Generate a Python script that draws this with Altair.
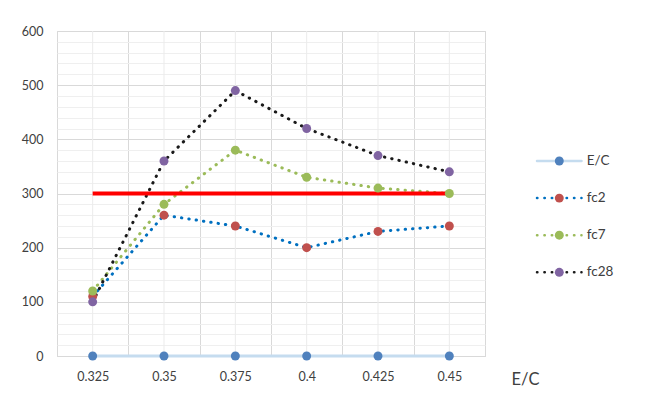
import altair as alt
import pandas as pd

categories = ["0.325", "0.35", "0.375", "0.4", "0.425", "0.45"]
ec = [0, 0, 0, 0, 0, 0]
fc2 = [110, 260, 240, 200, 230, 240]
fc7 = [120, 280, 380, 330, 310, 300]
fc28 = [100, 360, 490, 420, 370, 340]
target = [300, 300, 300, 300, 300, 300]
series_names = ["E/C", "fc2", "fc7", "fc28"]
line_colors = ["#C5DCEF", "#0070C0", "#9BBB59", "#1A1A1A"]
marker_colors = ["#4F81BD", "#C0504D", "#9BBB59", "#8064A2"]
dashes = [[1, 0], [0.4, 7], [0.4, 7], [0.4, 7]]

rows = []
for s, vals in zip(series_names, [ec, fc2, fc7, fc28]):
    for i, (c, v) in enumerate(zip(categories, vals)):
        rows.append({"cat": c, "series": s, "value": v, "idx": i})
df = pd.DataFrame(rows)
df_target = pd.DataFrame({"cat": categories, "value": target, "idx": list(range(len(categories)))})
df_cats = pd.DataFrame({"cat": categories})
df_leg = pd.DataFrame({"series": series_names})

FONT = "Lato"
TXT = "#404040"

x_enc = alt.X(
    "cat:N",
    sort=categories,
    scale=alt.Scale(type="band", domain=categories, paddingInner=0, paddingOuter=0),
    axis=alt.Axis(
        title="E/C",
        titleX=468,
        titleY=23,
        titleAlign="center",
        titleBaseline="middle",
        titleFontSize=16.5,
        titleFontWeight="normal",
        titleFont=FONT,
        titleColor=TXT,
        labelFont=FONT,
        labelFontSize=12.5,
        labelColor=TXT,
        labelPadding=14,
        labelAngle=0,
        ticks=False,
        tickBand="extent",
        grid=True,
        gridColor="#D9D9D9",
        domainColor="#D9D9D9",
    ),
)

y_enc = alt.Y(
    "value:Q",
    scale=alt.Scale(domain=[0, 600], nice=False),
    axis=alt.Axis(
        title=None,
        values=list(range(0, 601, 20)),
        labelExpr="datum.value % 100 === 0 ? datum.label : ''",
        gridColor={"condition": {"test": "datum.value % 100 === 0", "value": "#D9D9D9"}, "value": "#EFEFEF"},
        ticks=False,
        domain=False,
        labelFont=FONT,
        labelFontSize=12.5,
        labelColor=TXT,
        labelPadding=14,
    ),
)

stroke_scale = alt.Scale(domain=series_names, range=line_colors)
fill_scale = alt.Scale(domain=series_names, range=marker_colors)
dash_scale = alt.Scale(domain=series_names, range=dashes)

minor_v = alt.Chart(df_cats).mark_rule(color="#EBEBEB", strokeWidth=1).encode(x=x_enc)

lines = alt.Chart(df).mark_line(strokeWidth=3, strokeCap="round").encode(
    x=x_enc,
    y=y_enc,
    detail="series:N",
    order="idx:Q",
    stroke=alt.Stroke("series:N", scale=stroke_scale, legend=None),
    strokeDash=alt.StrokeDash("series:N", scale=dash_scale, legend=None),
)

target_line = alt.Chart(df_target).mark_line(color="#FF0000", strokeWidth=4).encode(
    x=x_enc, y=y_enc, order="idx:Q"
)

points = alt.Chart(df).mark_point(filled=True, shape="circle", size=80, opacity=1, strokeWidth=0).encode(
    x=x_enc,
    y=y_enc,
    fill=alt.Fill("series:N", scale=fill_scale, legend=None),
)

main = alt.layer(minor_v, lines, target_line, points)

leg_y = alt.Y(
    "series:N",
    scale=alt.Scale(type="point", domain=series_names, range=[130, 241.3], padding=0),
    axis=None,
)

leg_rules = alt.Chart(df_leg).mark_rule(strokeWidth=2.5, strokeCap="round").encode(
    x=alt.value(480),
    x2=alt.value(524.5),
    y=leg_y,
    stroke=alt.Stroke("series:N", scale=stroke_scale, legend=None),
    strokeDash=alt.StrokeDash("series:N", scale=dash_scale, legend=None),
)
leg_points = alt.Chart(df_leg).mark_point(filled=True, shape="circle", size=80, opacity=1, strokeWidth=0).encode(
    x=alt.value(502.3),
    y=leg_y,
    fill=alt.Fill("series:N", scale=fill_scale, legend=None),
)
leg_text = alt.Chart(df_leg).mark_text(align="left", baseline="middle", font=FONT, fontSize=13.5, color=TXT).encode(
    x=alt.value(529.7),
    y=leg_y,
    text="series:N",
)
legend = alt.layer(leg_rules, leg_points, leg_text)

chart = (
    alt.layer(main, legend)
    .resolve_scale(y="independent")
    .properties(
        width=428,
        height=325,
        autosize=alt.AutoSizeParams(type="none"),
        padding={"left": 57, "top": 31, "right": 172, "bottom": 46},
        background="white",
    )
    .configure_view(stroke="#D9D9D9", strokeWidth=1)
)

chart.save("out.html", embed_options={"renderer": "svg", "actions": False})
